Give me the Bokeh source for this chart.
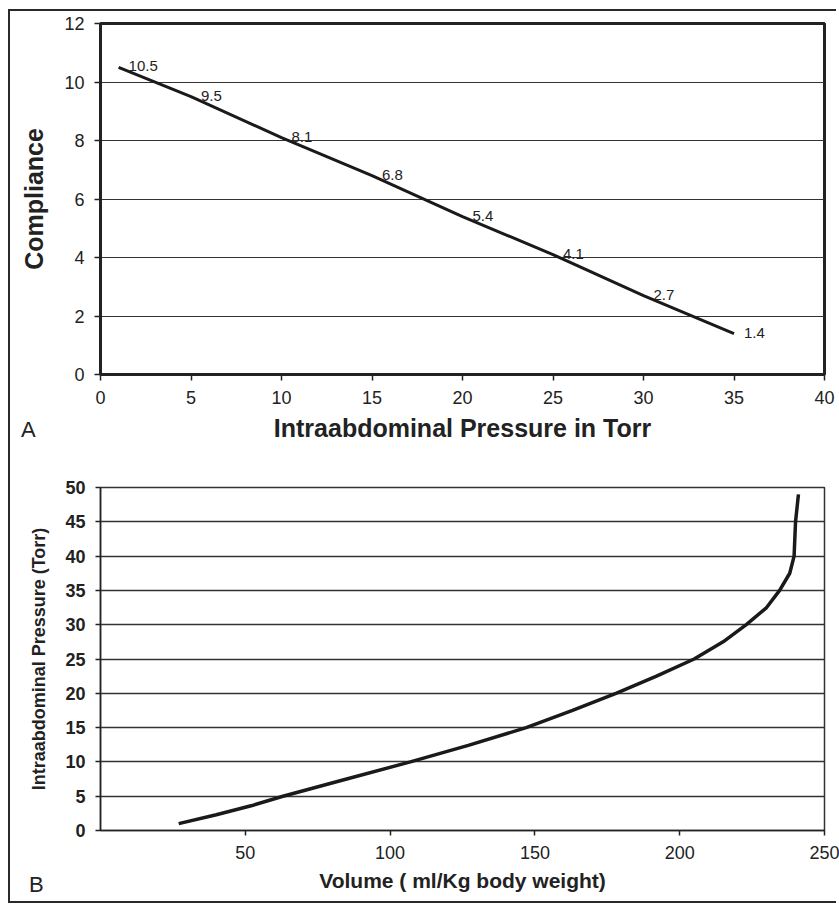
from bokeh.plotting import figure
from bokeh.layouts import column
from bokeh.models import FixedTicker, Range1d, Div
from bokeh.core.properties import value
from bokeh.embed import file_html
from bokeh.resources import INLINE

# ---------------- Panel A data ----------------
pressure_a = [1, 5, 10, 15, 20, 25, 30, 35]
compliance = [10.5, 9.5, 8.1, 6.8, 5.4, 4.1, 2.7, 1.4]
compliance_labels = ["10.5", "9.5", "8.1", "6.8", "5.4", "4.1", "2.7", "1.4"]
xticks_a = [0, 5, 10, 15, 20, 25, 30, 35, 40]
yticks_a = [0, 2, 4, 6, 8, 10, 12]

# ---------------- Panel B data ----------------
volume = [27, 40, 52, 63, 85, 107, 127, 147, 163, 178, 192, 205, 215, 223,
          230, 234.5, 238, 239.5, 240, 241]
pressure_b = [1, 2.3, 3.6, 5, 7.5, 10, 12.4, 15, 17.5, 20, 22.5, 25, 27.5, 30,
              32.5, 35, 37.5, 40, 45, 49]
xticks_b = [50, 100, 150, 200, 250]
yticks_b = [0, 5, 10, 15, 20, 25, 30, 35, 40, 45, 50]

FONT = "Liberation Sans"
INK = "#222222"


def style_axes(p, tick_size, ybold=False):
    for ax in (p.xaxis[0], p.yaxis[0]):
        ax.axis_line_color = INK
        ax.major_tick_line_color = INK
        ax.major_tick_line_width = 1.5
        ax.major_tick_in = 0
        ax.major_tick_out = 6
        ax.minor_tick_in = 0
        ax.minor_tick_out = 0
        ax.major_label_text_font = FONT
        ax.major_label_text_font_size = tick_size
        ax.major_label_text_color = INK
        ax.major_label_standoff = 10
        ax.axis_label_text_font = FONT
        ax.axis_label_text_font_style = "bold"
        ax.axis_label_text_color = INK
    if ybold:
        p.yaxis[0].major_label_text_font_style = "bold"


# ---------------- Panel A ----------------
pa = figure(width=839, height=452, x_range=Range1d(0, 40), y_range=Range1d(0, 12),
            output_backend="svg", toolbar_location=None,
            min_border_left=97, min_border_right=15, min_border_top=23,
            min_border_bottom=78)
pa.background_fill_color = "white"
pa.border_fill_color = "white"
pa.outline_line_color = INK
pa.outline_line_width = 3
pa.xgrid.visible = False
pa.ygrid.grid_line_color = "#333333"
pa.ygrid.grid_line_width = 1.2
pa.xaxis.ticker = FixedTicker(ticks=xticks_a)
pa.yaxis.ticker = FixedTicker(ticks=yticks_a)
style_axes(pa, "18px")
pa.xaxis.axis_line_width = 3
pa.yaxis.axis_line_width = 3
pa.xaxis.axis_label = "Intraabdominal Pressure in Torr"
pa.yaxis.axis_label = "Compliance"
pa.xaxis.axis_label_text_font_size = "25px"
pa.yaxis.axis_label_text_font_size = "25px"
pa.xaxis.axis_label_standoff = 7
pa.yaxis.axis_label_standoff = 13

pa.line(pressure_a, compliance, line_width=3, line_color="#1a1a1a")
pa.text(x=pressure_a, y=compliance, text=compliance_labels,
        x_offset=10, y_offset=-1, text_baseline="alphabetic", text_align="left",
        text_font=value(FONT), text_font_size="15px", text_color=INK)

# ---------------- Panel B ----------------
pb = figure(width=839, height=452, x_range=Range1d(0, 250), y_range=Range1d(0, 50),
            output_backend="svg", toolbar_location=None,
            min_border_left=100, min_border_right=12, min_border_top=35,
            min_border_bottom=74)
pb.background_fill_color = "white"
pb.border_fill_color = "white"
pb.outline_line_color = "#333333"
pb.outline_line_width = 1.5
pb.xgrid.visible = False
pb.ygrid.grid_line_color = "#333333"
pb.ygrid.grid_line_width = 1.5
pb.xaxis.ticker = FixedTicker(ticks=xticks_b)
pb.yaxis.ticker = FixedTicker(ticks=yticks_b)
style_axes(pb, "18px", ybold=True)
pb.xaxis.axis_line_width = 1.5
pb.yaxis.axis_line_width = 1.5
pb.xaxis.major_tick_out = 5
pb.yaxis.major_tick_out = 5
pb.xaxis.axis_label = "Volume ( ml/Kg body weight)"
pb.yaxis.axis_label = "Intraabdominal Pressure (Torr)"
pb.xaxis.axis_label_text_font_size = "21px"
pb.yaxis.axis_label_text_font_size = "18px"
pb.xaxis.axis_label_standoff = 7
pb.yaxis.axis_label_standoff = 13

pb.line(volume, pressure_b, line_width=3.5, line_color="#1a1a1a")

# ---------------- panel letters and page frame ----------------
letter_style = {"position": "absolute", "font-family": "Liberation Sans",
                "font-size": "22px", "color": INK, "line-height": "1"}
letter_a = Div(text="A", width=30, height=26,
               styles=dict(letter_style, left="16px", top="414px"))
letter_b = Div(text="B", width=30, height=26,
               styles=dict(letter_style, left="24px", top="869px"))
page_frame = Div(text="", width=828, height=894,
                 styles={"position": "absolute", "left": "3px", "top": "4px",
                         "border-left": "2px solid #2a2a2a",
                         "border-top": "2px solid #2a2a2a",
                         "border-bottom": "2px solid #2a2a2a",
                         "pointer-events": "none"})

layout = column(pa, pb, letter_a, letter_b, page_frame, spacing=0,
                width=839, height=904,
                styles={"position": "relative", "overflow": "hidden"})
open("out.html", "w").write(file_html(layout, INLINE))
